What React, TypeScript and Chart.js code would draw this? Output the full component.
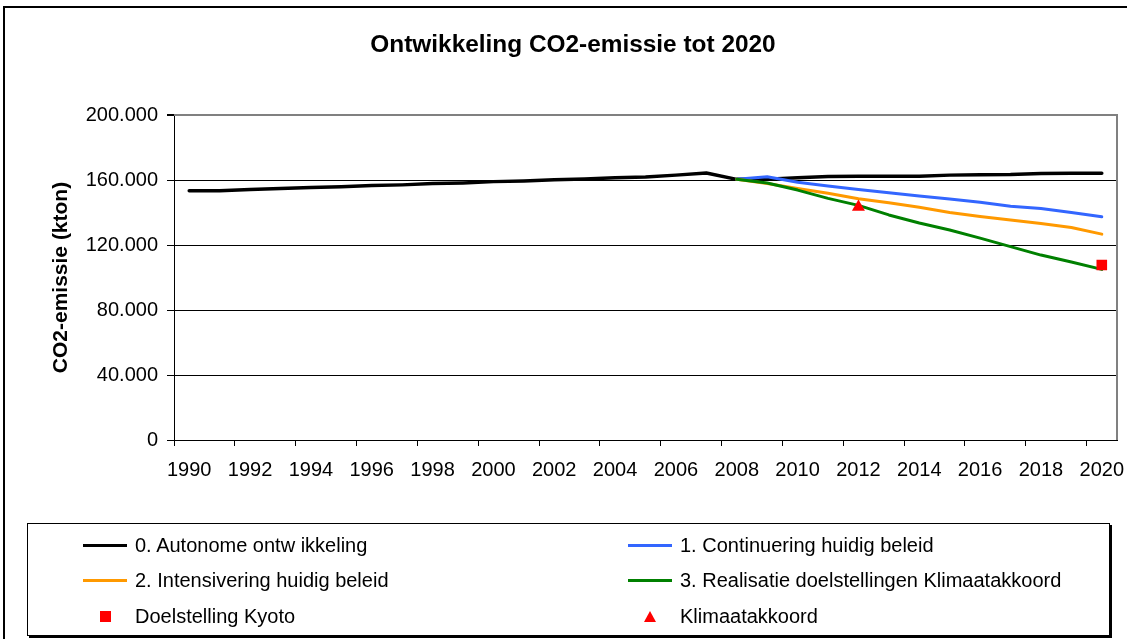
import React, { useEffect, useRef } from 'react';
import { Chart, registerables } from 'chart.js';

Chart.register(...registerables);

const years = [
  '1990', '1991', '1992', '1993', '1994', '1995', '1996', '1997', '1998', '1999',
  '2000', '2001', '2002', '2003', '2004', '2005', '2006', '2007', '2008', '2009',
  '2010', '2011', '2012', '2013', '2014', '2015', '2016', '2017', '2018', '2019', '2020',
];

const autonome = [
  153400, 153400, 154200, 154700, 155400, 155800, 156600, 157000, 157800, 158200,
  159000, 159400, 160200, 160600, 161400, 161800, 163000, 164300, 160400, 160400,
  161400, 162200, 162300, 162300, 162300, 163000, 163300, 163400, 164000, 164100, 164100,
];

const continuering = [
  null, null, null, null, null, null, null, null, null, null,
  null, null, null, null, null, null, null, null, 160400, 162000,
  158600, 156300, 154200, 152200, 150200, 148300, 146300, 143800, 142500, 140000, 137400,
];

const intensivering = [
  null, null, null, null, null, null, null, null, null, null,
  null, null, null, null, null, null, null, null, 160400, 157800,
  154800, 151800, 148500, 146000, 143200, 140000, 137600, 135400, 133200, 130800, 126700,
];

const realisatie = [
  null, null, null, null, null, null, null, null, null, null,
  null, null, null, null, null, null, null, null, 160400, 158200,
  153800, 148700, 144400, 138500, 133500, 129200, 124200, 119000, 113800, 109500, 105000,
];

const kyoto = [
  null, null, null, null, null, null, null, null, null, null,
  null, null, null, null, null, null, null, null, null, null,
  null, null, null, null, null, null, null, null, null, null, 107700,
];

const klimaatakkoord = [
  null, null, null, null, null, null, null, null, null, null,
  null, null, null, null, null, null, null, null, null, null,
  null, null, 143400, null, null, null, null, null, null, null, null,
];

const seriesNames = [
  '0. Autonome ontw ikkeling',
  '1. Continuering huidig beleid',
  '2. Intensivering huidig beleid',
  '3. Realisatie doelstellingen Klimaatakkoord',
  'Doelstelling Kyoto',
  'Klimaatakkoord',
];

const title = 'Ontwikkeling CO2-emissie tot 2020';
const yTitle = 'CO2-emissie (kton)';
const yMin = 0;
const yMax = 200000;
const yStep = 40000;

const COLORS = {
  black: '#000000',
  blue: '#3366FF',
  orange: '#FF9900',
  green: '#008000',
  red: '#FF0000',
};

const FONT = "'Liberation Sans', Arial, sans-serif";

function fmt(v: number): string {
  return String(v).replace(/\B(?=(\d{3})+(?!\d))/g, '.');
}

const frameBorder = {
  id: 'frameBorder',
  beforeDatasetsDraw(chart: any) {
    const { ctx, chartArea } = chart;
    ctx.save();
    ctx.strokeStyle = '#808080';
    ctx.lineWidth = 2;
    ctx.beginPath();
    ctx.moveTo(chartArea.left, chartArea.top);
    ctx.lineTo(chartArea.right, chartArea.top);
    ctx.lineTo(chartArea.right, chartArea.bottom);
    ctx.stroke();
    ctx.restore();
  },
};

export default function App() {
  const canvasRef = useRef<HTMLCanvasElement | null>(null);

  useEffect(() => {
    document.body.style.margin = '0';
    document.body.style.overflow = 'hidden';
    const canvas = canvasRef.current;
    if (!canvas) return;
    const chart = new Chart(canvas, {
      type: 'line',
      data: {
        labels: years,
        datasets: [
          {
            label: seriesNames[4], data: kyoto, showLine: false, order: 0,
            pointStyle: 'rect', pointRadius: 7.5, pointBackgroundColor: COLORS.red,
            pointBorderColor: COLORS.red, pointBorderWidth: 0, borderColor: COLORS.red, backgroundColor: COLORS.red,
          },
          {
            label: seriesNames[5], data: klimaatakkoord, showLine: false, order: 0,
            pointStyle: 'triangle', pointRadius: 7.5, pointBackgroundColor: COLORS.red,
            pointBorderColor: COLORS.red, pointBorderWidth: 0, borderColor: COLORS.red, backgroundColor: COLORS.red,
          },
          { label: seriesNames[3], data: realisatie, borderColor: COLORS.green, order: 1 },
          { label: seriesNames[2], data: intensivering, borderColor: COLORS.orange, order: 2 },
          { label: seriesNames[1], data: continuering, borderColor: COLORS.blue, order: 3 },
          { label: seriesNames[0], data: autonome, borderColor: COLORS.black, borderWidth: 3.5, order: 4 },
        ] as any,
      },
      options: {
        responsive: false,
        animation: false,
        devicePixelRatio: 1,
        layout: { padding: { left: 0, top: 115, right: 33, bottom: 139 } },
        elements: {
          line: { borderWidth: 3, tension: 0, fill: false, borderCapStyle: 'round', borderJoinStyle: 'round' },
          point: { radius: 0, hoverRadius: 0 },
        },
        plugins: {
          legend: { display: false },
          tooltip: { enabled: false },
          title: { display: false },
        },
        scales: {
          x: {
            type: 'category',
            offset: true,
            afterFit: (scale: any) => { scale.height = 60; },
            border: { display: true, color: '#000', width: 1 },
            grid: {
              offset: true,
              drawOnChartArea: false,
              drawTicks: true,
              tickLength: 6,
              color: (ctx: any) => (typeof ctx.index === 'number' && ctx.index % 2 === 0 ? '#000' : 'rgba(0,0,0,0)'),
              tickColor: (ctx: any) => (typeof ctx.index === 'number' && ctx.index % 2 === 0 ? '#000' : 'rgba(0,0,0,0)'),
            },
            ticks: {
              autoSkip: false,
              maxRotation: 0,
              minRotation: 0,
              padding: 12,
              color: '#000',
              font: { family: FONT, size: 20 },
              callback: (_v: any, i: number) => (i % 2 === 0 ? years[i] : ''),
            },
          },
          y: {
            min: yMin,
            max: yMax,
            afterFit: (scale: any) => { scale.width = 174; },
            border: { display: true, color: '#000', width: 1 },
            grid: {
              drawTicks: true,
              tickLength: 7,
              color: (ctx: any) => (ctx.tick && ctx.tick.value === yMax ? '#808080' : '#000'),
              lineWidth: (ctx: any) => (ctx.tick && ctx.tick.value === yMax ? 2 : 1),
              tickColor: '#000',
            },
            ticks: {
              stepSize: yStep,
              padding: 9,
              color: '#000',
              font: { family: FONT, size: 20 },
              callback: (v: any) => fmt(Number(v)),
            },
            title: {
              display: true,
              text: yTitle,
              color: '#000',
              font: { family: FONT, size: 21, weight: 'bold' },
              padding: { top: 49, bottom: 0 },
            },
          },
        },
      },
      plugins: [frameBorder],
    } as any);
    return () => chart.destroy();
  }, []);

  const legendRow = (top: number) => ({ position: 'absolute' as const, top, height: 30, display: 'flex', alignItems: 'center' });
  const lineSample = (color: string) => ({ width: 44, height: 3, background: color, marginRight: 8 });
  const textStyle = { fontFamily: FONT, fontSize: 20, color: '#000', whiteSpace: 'pre' as const };

  return (
    <div style={{ position: 'fixed', left: 0, top: 0, width: 1127, height: 639, overflow: 'hidden', background: '#fff' }}>
      <canvas ref={canvasRef} width={1150} height={639} style={{ position: 'absolute', left: 0, top: 0, width: 1150, height: 639 }} />
      <div style={{ position: 'absolute', left: 3, top: 6, width: 1200, height: 700, borderTop: '2px solid #000', borderLeft: '2px solid #000', pointerEvents: 'none' }} />
      <div style={{ position: 'absolute', left: 0, top: 30, width: 1146, textAlign: 'center', fontFamily: FONT, fontWeight: 'bold', fontSize: 24.4, lineHeight: '28px', color: '#000' }}>
        {title}
      </div>
      <div style={{ position: 'absolute', left: 27, top: 523, width: 1081, height: 111, border: '1px solid #000', boxShadow: '2px 2px 0 #000' }}>
        <div style={{ ...legendRow(6), left: 55 }}>
          <div style={lineSample(COLORS.black)} />
          <span style={textStyle}>{seriesNames[0]}</span>
        </div>
        <div style={{ ...legendRow(6), left: 600 }}>
          <div style={lineSample(COLORS.blue)} />
          <span style={textStyle}>{seriesNames[1]}</span>
        </div>
        <div style={{ ...legendRow(41), left: 55 }}>
          <div style={lineSample(COLORS.orange)} />
          <span style={textStyle}>{seriesNames[2]}</span>
        </div>
        <div style={{ ...legendRow(41), left: 600 }}>
          <div style={lineSample(COLORS.green)} />
          <span style={textStyle}>{seriesNames[3]}</span>
        </div>
        <div style={{ ...legendRow(77), left: 55 }}>
          <div style={{ width: 44, display: 'flex', justifyContent: 'center', marginRight: 8 }}>
            <div style={{ width: 11, height: 11, background: COLORS.red }} />
          </div>
          <span style={textStyle}>{seriesNames[4]}</span>
        </div>
        <div style={{ ...legendRow(77), left: 600 }}>
          <div style={{ width: 44, display: 'flex', justifyContent: 'center', marginRight: 8 }}>
            <div style={{ width: 0, height: 0, borderLeft: '6px solid transparent', borderRight: '6px solid transparent', borderBottom: '11px solid ' + COLORS.red }} />
          </div>
          <span style={textStyle}>{seriesNames[5]}</span>
        </div>
      </div>
    </div>
  );
}
